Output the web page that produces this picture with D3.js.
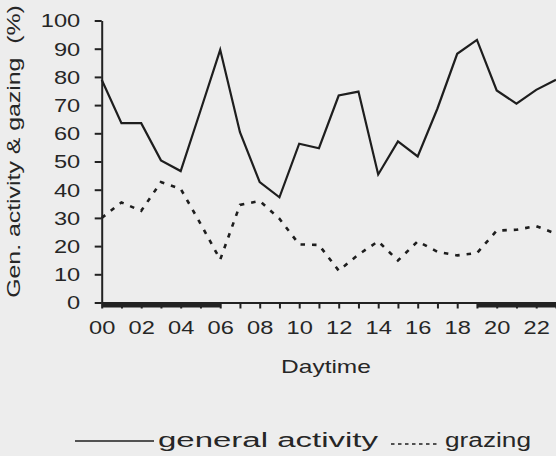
<!DOCTYPE html>
<html>
<head>
<meta charset="utf-8">
<script src="https://cdn.jsdelivr.net/npm/d3@7"></script>
<style>
  body { margin: 0; background: #ececec; }
  svg { display: block; }
  text { font-family: "Liberation Sans", Arial, sans-serif; fill: #262626; }
</style>
</head>
<body>
<div class="chart"></div>
<script>
// hours of the day
const hours = d3.range(0, 24);
// general activity (%) per hour
const general = [79, 63.6, 63.6, 50.4, 46.6, 68, 89.6, 60.4, 42.7, 37.3, 56.3, 54.7,
                 73.4, 74.8, 45.4, 57.1, 51.8, 68.8, 88.2, 93.1, 75.2, 70.5, 75.4, 79];
// grazing (%) per hour
const grazing = [30, 35.5, 32.5, 42.7, 40.3, 28, 15.2, 34.6, 36, 29.7, 20.6, 20.4,
                 11.3, 17, 21.7, 14.9, 21.7, 18, 16.7, 17.5, 25.5, 25.8, 27.1, 24.4];
// dark periods (night) on the time axis
const nightStart = [0, 19];
const nightEnd = [6, 24];
const yTicks = [0, 10, 20, 30, 40, 50, 60, 70, 80, 90, 100];

const W = 556, H = 456;

const svg = d3.select('.chart').append('svg')
  .attr('width', W)
  .attr('height', H);

svg.append('rect')
  .attr('width', W).attr('height', H)
  .attr('fill', '#ededed');

// text that is wider than normal (scanned, extended typeface)
function wideText(g, x, y, str, size, sx, anchor) {
  return g.append('text')
    .attr('transform', `translate(${x},${y}) scale(${sx},1)`)
    .attr('font-size', size)
    .attr('text-anchor', anchor || 'start')
    .style('white-space', 'pre')
    .text(str);
}

const x = d3.scaleLinear().domain([0, 24]).range([101.7, 101.7 + 24 * 19.75]);
const y = d3.scaleLinear().domain([0, 100]).range([302.5, 20.5]);

// y axis
const yAxis = d3.axisLeft(y)
  .tickValues(yTicks)
  .tickSize(7)
  .tickSizeOuter(0)
  .tickFormat(d => d);

const yAxisGroup = svg.append('g')
  .attr('transform', `translate(${x(0)},0)`)
  .call(yAxis);

yAxisGroup.selectAll('path, line').attr('stroke', '#222').attr('stroke-width', 2);
yAxisGroup.selectAll('text')
  .attr('x', null).attr('dy', '0.36em')
  .attr('transform', 'translate(-21.5,0) scale(1.35,1)')
  .attr('font-size', 17.5)
  .attr('font-family', null)
  .attr('fill', '#262626');

// x axis
const xAxis = d3.axisBottom(x)
  .tickValues(hours)
  .tickSize(6)
  .tickSizeOuter(0)
  .tickFormat(d => d % 2 ? '' : d3.format('02d')(d));

const xAxisGroup = svg.append('g')
  .attr('transform', `translate(0,${y(0)})`)
  .call(xAxis);

xAxisGroup.selectAll('path, line').attr('stroke', '#222').attr('stroke-width', 2);
xAxisGroup.selectAll('text')
  .attr('y', 31.5).attr('dy', null)
  .attr('transform', 'scale(1.35,1)')
  .attr('font-size', 17.5)
  .attr('font-family', null)
  .attr('fill', '#262626');

// night bars under the axis
svg.selectAll('rect.night')
  .data(nightStart)
  .enter().append('rect')
  .attr('class', 'night')
  .attr('x', (d, i) => x(d))
  .attr('y', y(0))
  .attr('width', (d, i) => x(nightEnd[i]) - x(d))
  .attr('height', 5)
  .attr('fill', '#222');

// lines
const line = d3.line()
  .x((d, i) => x(hours[i]))
  .y(d => y(d));

svg.append('path')
  .datum(general)
  .attr('d', line)
  .attr('fill', 'none')
  .attr('stroke', '#1e1e1e')
  .attr('stroke-width', 2.2)
  .attr('stroke-linejoin', 'miter');

svg.append('path')
  .datum(grazing)
  .attr('d', line)
  .attr('fill', 'none')
  .attr('stroke', '#1e1e1e')
  .attr('stroke-width', 2.6)
  .attr('stroke-dasharray', '4.5,7');

// axis titles
wideText(svg, 326, 373, 'Daytime', 17.5, 1.4, 'middle');
svg.append('text')
  .attr('transform', 'translate(20,151.5) rotate(-90) scale(1.38,1)')
  .attr('font-size', 18)
  .attr('text-anchor', 'middle')
  .style('white-space', 'pre')
  .text('Gen. activity & gazing  (%)');

// legend
const legend = svg.append('g');
legend.append('line')
  .attr('x1', 75).attr('x2', 154)
  .attr('y1', 441).attr('y2', 441)
  .attr('stroke', '#1e1e1e').attr('stroke-width', 1.5);
legend.append('text')
  .attr('x', 158).attr('y', 447)
  .attr('font-size', 20)
  .attr('textLength', 220)
  .attr('lengthAdjust', 'spacingAndGlyphs')
  .text('general activity');
legend.append('line')
  .attr('x1', 391).attr('x2', 440)
  .attr('y1', 444).attr('y2', 444)
  .attr('stroke', '#1e1e1e').attr('stroke-width', 1.6)
  .attr('stroke-dasharray', '3.5,3.5');
legend.append('text')
  .attr('x', 445).attr('y', 447)
  .attr('font-size', 20)
  .attr('textLength', 86)
  .attr('lengthAdjust', 'spacingAndGlyphs')
  .text('grazing');
</script>
</body>
</html>
